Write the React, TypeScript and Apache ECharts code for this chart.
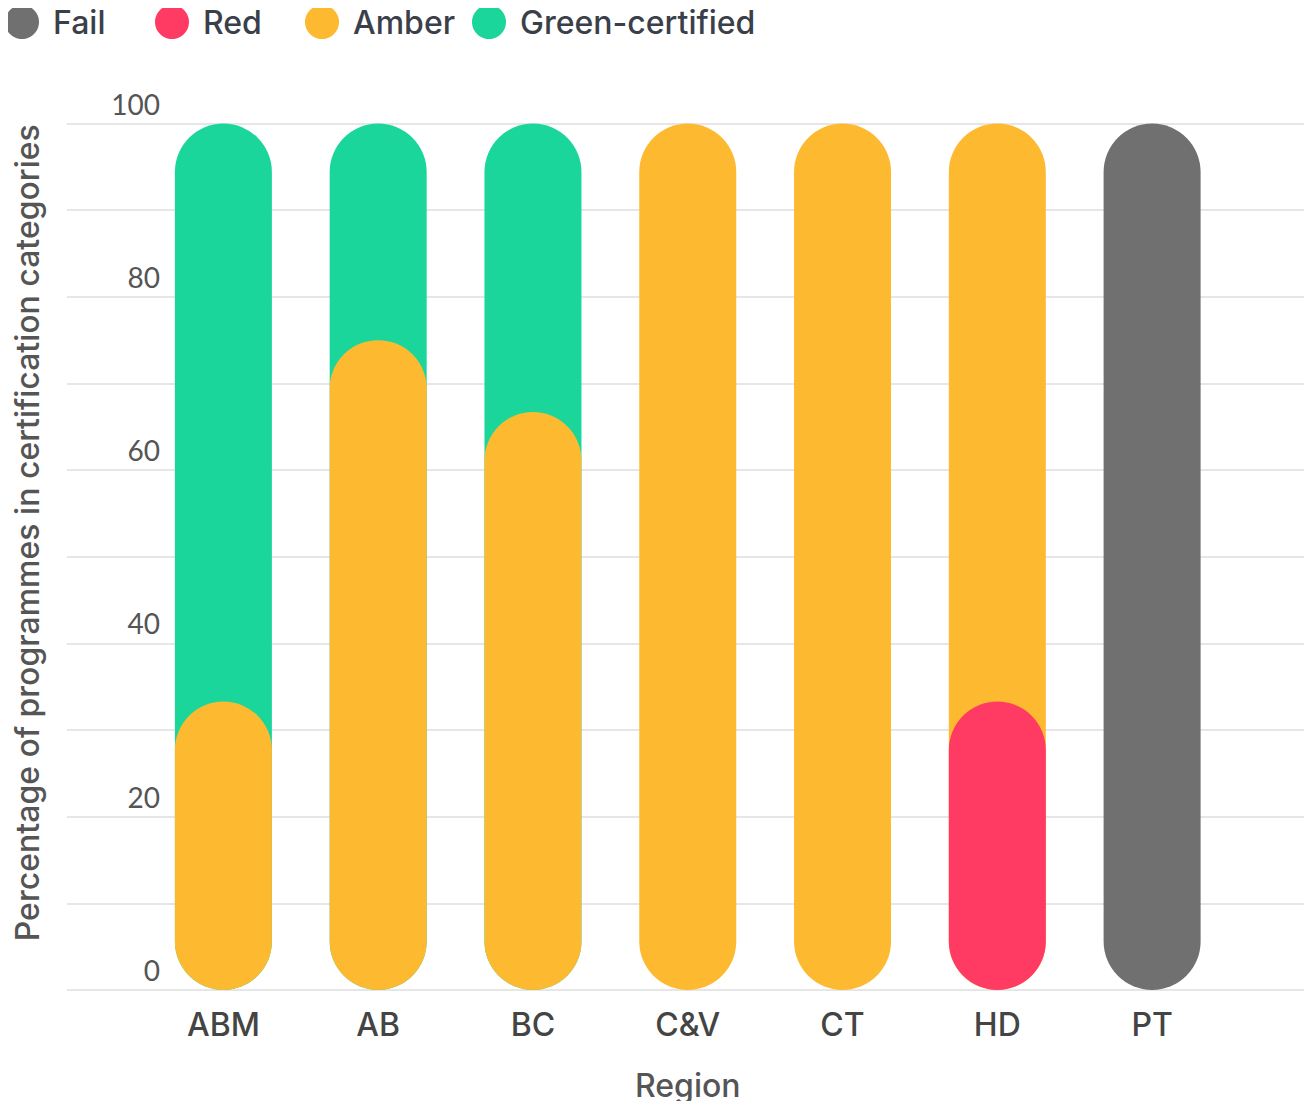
import React, { useEffect, useRef } from "react";
import * as echarts from "echarts";

const categories = ["ABM", "AB", "BC", "C&V", "CT", "HD", "PT"];
const failValues = [0, 0, 0, 0, 0, 0, 100];
const redValues = [0, 0, 0, 0, 0, 33.3, 0];
const amberValues = [33.3, 75, 66.7, 100, 100, 66.7, 0];
const greenValues = [66.7, 25, 33.3, 0, 0, 0, 0];
const yTickLabels = ["0", "20", "40", "60", "80", "100"];

const seriesNames = ["Fail", "Red", "Amber", "Green-certified"];
const seriesColors = ["#707070", "#ff3b63", "#fdba30", "#1bd69a"];
const FONT = "Lato, 'Noto Sans', sans-serif";
const WIDE = "Inter, 'Noto Sans', sans-serif";

export default function App() {
  const ref = useRef<HTMLDivElement>(null);
  useEffect(() => {
    if (!ref.current) return;
    const chart = echarts.init(ref.current, null, { renderer: "svg" });
    const layers = [failValues, redValues, amberValues, greenValues];
    const cumulative = layers.map((_, li) =>
      categories.map((_, ci) => {
        let s = 0;
        for (let k = 0; k <= li; k++) s += layers[k][ci];
        return layers[li][ci] > 0 ? s : "-";
      })
    );
    const barW = 97;
    const order = [3, 2, 1, 0];
    const series = order.map((li) => ({
      name: seriesNames[li],
      type: "bar",
      xAxisIndex: 0,
      yAxisIndex: 0,
      data: cumulative[li],
      barWidth: barW,
      barGap: "-100%",
      itemStyle: { color: seriesColors[li], borderRadius: barW / 2 },
      emphasis: { disabled: true },
    }));
    const legendLefts = [5, 155, 305, 472];
    const option = {
      animation: false,
      textStyle: { fontFamily: FONT },
      legend: seriesNames.map((n, i) => ({
        data: [n],
        left: legendLefts[i],
        top: 5,
        icon: "circle",
        itemWidth: 34,
        itemHeight: 34,
        padding: 0,
        textStyle: {
          fontFamily: WIDE,
          fontSize: 32,
          fontWeight: 500,
          color: "#3a3f4a",
          padding: [0, 0, 0, 9],
        },
      })),
      grid: [
        { left: 146, right: 82.5, top: 123.5, bottom: 119 },
        { left: 67, right: 1, top: 123.5, bottom: 119 },
      ],
      xAxis: [
        {
          type: "category",
          gridIndex: 0,
          data: categories,
          axisLine: { show: false },
          axisTick: { show: false },
          axisLabel: {
            fontFamily: WIDE,
            fontSize: 32,
            fontWeight: 500,
            color: "#444",
            margin: 18,
          },
          name: "Region",
          nameLocation: "middle",
          nameGap: 79,
          nameTextStyle: {
            fontFamily: WIDE,
            fontSize: 32,
            fontWeight: 500,
            color: "#555",
          },
        },
        {
          type: "value",
          gridIndex: 1,
          show: false,
          min: 0,
          max: 1,
        },
      ],
      yAxis: [
        {
          type: "value",
          gridIndex: 0,
          min: 0,
          max: 100,
          show: false,
        },
        {
          type: "value",
          gridIndex: 1,
          min: 0,
          max: 100,
          interval: 10,
          axisLine: { show: false },
          axisTick: { show: false },
          splitLine: { show: true, lineStyle: { color: "#e6e6e6", width: 2 } },
          axisLabel: {
            inside: true,
            margin: 93,
            align: "right",
            verticalAlign: "bottom",
            padding: [0, 0, 6, 0],
            fontFamily: FONT,
            fontSize: 28,
            color: "#555",
            formatter: (v: number) =>
              yTickLabels.includes(String(v)) ? String(v) : "",
          },
          name: "Percentage of programmes in certification categories",
          nameLocation: "middle",
          nameGap: 24,
          nameTextStyle: {
            fontFamily: WIDE,
            fontSize: 32,
            fontWeight: 500,
            color: "#555",
            padding: [0, 0, 0, 48],
          },
        },
      ],
      series,
    };
    chart.setOption(option as any);
    return () => chart.dispose();
  }, []);
  return <div ref={ref} style={{ width: 1312, height: 1109, margin: -8 }} />;
}
